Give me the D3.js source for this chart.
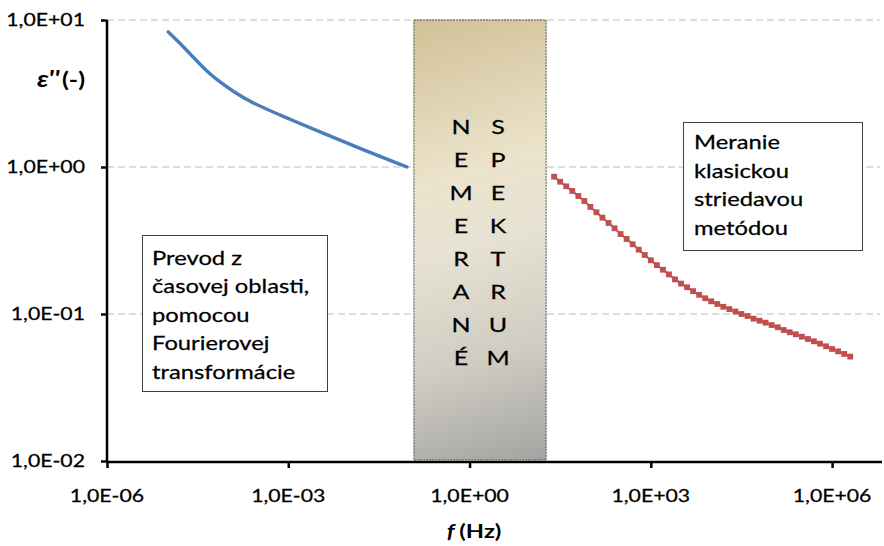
<!DOCTYPE html>
<html>
<head>
<meta charset="utf-8">
<script src="https://cdn.jsdelivr.net/npm/d3@7"></script>
<style>
  body { margin: 0; background: #fff; }
  svg { display: block; }
</style>
</head>
<body>
<svg id="chart" width="884" height="546"></svg>
<script>
// Axis ticks and their labels
const xTickValues = [1e-6, 1e-3, 1e0, 1e3, 1e6];
const xTickLabels = ["1,0E-06", "1,0E-03", "1,0E+00", "1,0E+03", "1,0E+06"];
const yTickValues = [1e-2, 1e-1, 1e0, 1e1];
const yTickLabels = ["1,0E-02", "1,0E-01", "1,0E+00", "1,0E+01"];

// Loss factor obtained from time-domain data via Fourier transform
const fourierFreq = [1.03e-5, 1.7e-5, 2.65e-5, 4.2e-5, 6.6e-5, 1.25e-4, 2.33e-4, 9.5e-4, 3.76e-3, 1.73e-2, 9.2e-2];
const fourierEps  = [8.3, 6.8, 5.6, 4.6, 3.91, 3.25, 2.77, 2.15, 1.70, 1.31, 1.0];

// Loss factor measured with the classic AC method
const acFreq = [25.1, 31.6, 39.8, 50.1, 63.1, 79.4, 100, 126, 158, 200,
                251, 316, 398, 501, 631, 794, 1000, 1259, 1585, 1995,
                2512, 3162, 3981, 5012, 6310, 7943, 10000, 12589, 15849, 19953,
                25119, 31623, 39811, 50119, 63096, 79433, 100000, 125893, 158489, 199526,
                251189, 316228, 398107, 501187, 630957, 794328, 1000000, 1258925, 1584893, 1995262];
const acEps  = [0.859, 0.794, 0.739, 0.687, 0.635, 0.587, 0.535, 0.492, 0.452, 0.416,
                0.383, 0.350, 0.324, 0.298, 0.274, 0.252, 0.232, 0.215, 0.200, 0.186,
                0.172, 0.161, 0.152, 0.143, 0.135, 0.128, 0.122, 0.117, 0.112, 0.108,
                0.104, 0.100, 0.0969, 0.0929, 0.0900, 0.0873, 0.0841, 0.0812, 0.0778, 0.0751,
                0.0728, 0.0701, 0.0676, 0.0652, 0.0628, 0.0603, 0.0578, 0.0557, 0.0535, 0.0513];

// Frequency band with no measured spectrum
const gapBand = [0.12, 18.5];
const gapLettersLeft  = ["N", "E", "M", "E", "R", "A", "N", "É"];
const gapLettersRight = ["S", "P", "E", "K", "T", "R", "U", "M"];

// Annotation boxes
const leftNote  = ["Prevod z", "časovej oblasti,", "pomocou", "Fourierovej", "transformácie"];
const rightNote = ["Meranie", "klasickou", "striedavou", "metódou"];

const FONT = "Lato, 'Open Sans', sans-serif";
const SX = 1.25; // horizontal glyph stretch

const svg = d3.select("#chart");

const x = d3.scaleLog().domain([1e-6, 6.7e6]).range([107, 882]);
const y = d3.scaleLog().domain([1e-2, 1e1]).range([461, 20]);

function stretchedText(parent, tx, ty, str, opts) {
  const g = parent.append("g").attr("transform", `translate(${tx},${ty}) scale(${SX},1)`);
  const t = g.append("text")
    .attr("font-family", FONT)
    .attr("font-size", opts.size)
    .attr("fill", opts.fill || "#000")
    .attr("text-anchor", opts.anchor || "start")
    .attr("stroke", opts.fill || "#000")
    .attr("stroke-width", opts.weight ? 0 : 0.25);
  if (opts.weight) t.attr("font-weight", opts.weight);
  if (typeof str === "string") t.text(str);
  return t;
}

// Horizontal gridlines
svg.append("g")
  .selectAll("line")
  .data(yTickValues.slice(1))
  .join("line")
  .attr("x1", x.range()[0]).attr("x2", x.range()[1] - 2)
  .attr("y1", d => y(d)).attr("y2", d => y(d))
  .attr("stroke", "#bdbdbd").attr("stroke-width", 1.2)
  .attr("stroke-dasharray", "7,4");

// Unmeasured-spectrum band with gradient fill
const defs = svg.append("defs");
const grad = defs.append("linearGradient")
  .attr("id", "gapFill")
  .attr("gradientUnits", "userSpaceOnUse")
  .attr("x1", x(gapBand[0])).attr("y1", y(1e1))
  .attr("x2", x(gapBand[1])).attr("y2", y(1e-2));
[[0, "#d2c197"], [0.35, "#ebe3cb"], [0.5, "#e7e2d3"], [0.75, "#cfccc2"], [1, "#a3a3a1"]]
  .forEach(([o, c]) => grad.append("stop").attr("offset", o).attr("stop-color", c));

svg.append("rect")
  .attr("x", x(gapBand[0]))
  .attr("y", y(1e1))
  .attr("width", x(gapBand[1]) - x(gapBand[0]))
  .attr("height", y(1e-2) - y(1e1) - 1)
  .attr("fill", "url(#gapFill)")
  .attr("stroke", "#505050").attr("stroke-width", 1)
  .attr("stroke-dasharray", "2,1");

const gapMid = (x(gapBand[0]) + x(gapBand[1])) / 2;
[[gapLettersLeft, -19], [gapLettersRight, 18]].forEach(([letters, dx]) => {
  letters.forEach((ch, i) => {
    stretchedText(svg, gapMid + dx, 134 + 33 * i, ch, { size: 20, anchor: "middle" });
  });
});

// Fourier-derived curve
svg.append("path")
  .datum(fourierFreq.map((f, i) => [f, fourierEps[i]]))
  .attr("fill", "none")
  .attr("stroke", "#4a7ebb").attr("stroke-width", 3.4)
  .attr("stroke-linecap", "round")
  .attr("d", d3.line().x(d => x(d[0])).y(d => y(d[1])).curve(d3.curveBasis));

// AC-method curve with square markers
const acData = acFreq.map((f, i) => [f, acEps[i]]);
svg.append("path")
  .datum(acData)
  .attr("fill", "none")
  .attr("stroke", "#c0504d").attr("stroke-width", 2)
  .attr("d", d3.line().x(d => x(d[0])).y(d => y(d[1])));
svg.append("g")
  .selectAll("rect")
  .data(acData)
  .join("rect")
  .attr("x", d => x(d[0]) - 2.9).attr("y", d => y(d[1]) - 2.9)
  .attr("width", 5.8).attr("height", 5.8)
  .attr("fill", "#c0504d");

// Axes
const xAxis = svg.append("g")
  .attr("transform", `translate(0,${y(1e-2) + 1})`)
  .call(d3.axisBottom(x).tickValues(xTickValues).tickSize(6).tickFormat(""));
xAxis.select(".domain").attr("stroke", "#000").attr("stroke-width", 2.5)
  .attr("d", `M${x.range()[0]},0H${x.range()[1]}`);
xAxis.selectAll(".tick line").attr("stroke", "#000").attr("stroke-width", 2.5);

const yAxis = svg.append("g")
  .attr("transform", `translate(${x.range()[0]},0)`)
  .call(d3.axisLeft(y).tickValues(yTickValues).tickSize(6).tickFormat(""));
yAxis.select(".domain").attr("stroke", "#000").attr("stroke-width", 2.5)
  .attr("d", `M0,${y.range()[1]}V${y.range()[0] + 1}`);
yAxis.selectAll(".tick line").attr("stroke", "#000").attr("stroke-width", 2.5);

xTickValues.forEach((v, i) => {
  stretchedText(svg, x(v), 502, xTickLabels[i], { size: 17, anchor: "middle" });
});
yTickValues.forEach((v, i) => {
  stretchedText(svg, 85, y(v) + 6, yTickLabels[i], { size: 17, anchor: "end" });
});

// Axis titles
const yTitle = stretchedText(svg, 85, 87, null, { size: 20, anchor: "end", weight: "bold" });
yTitle.append("tspan").attr("font-style", "italic").attr("font-size", 22).text("ε''");
yTitle.append("tspan").attr("dx", 2).text("(-)");

const xTitle = stretchedText(svg, 474, 538, null, { size: 19, anchor: "middle", weight: "bold" });
xTitle.append("tspan").attr("font-style", "italic").text("f ");
xTitle.append("tspan").text("(Hz)");

// Annotation boxes
function noteBox(bx, by, bw, bh, lines, tx, ty0, lh) {
  svg.append("rect")
    .attr("x", bx).attr("y", by).attr("width", bw).attr("height", bh)
    .attr("fill", "#fff").attr("stroke", "#404040").attr("stroke-width", 1);
  lines.forEach((l, i) => {
    stretchedText(svg, tx, ty0 + lh * i, l, { size: 19 });
  });
}
noteBox(142.5, 235.5, 185, 156, leftNote, 152, 265, 28.4);
noteBox(683.5, 122.5, 179, 128, rightNote, 694, 149, 28.7);
</script>
</body>
</html>
